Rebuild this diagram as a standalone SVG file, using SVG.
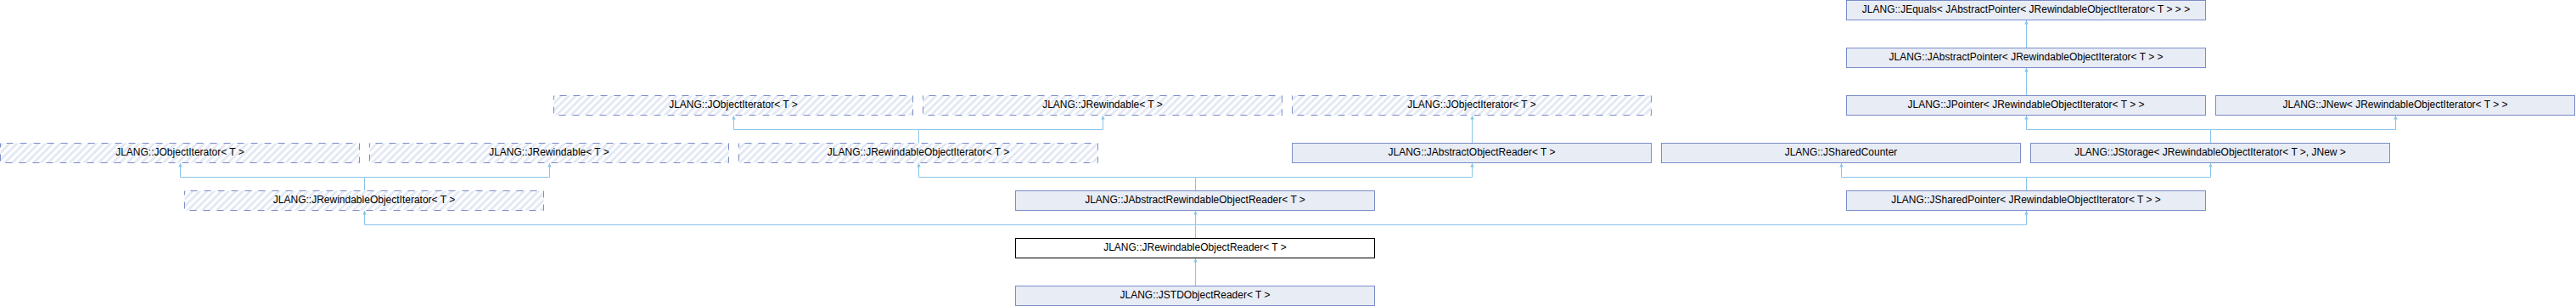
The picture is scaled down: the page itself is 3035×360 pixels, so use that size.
<svg xmlns="http://www.w3.org/2000/svg" width="3035" height="360" viewBox="0 0 3035 360">
<style>
  .n rect { fill: #E8ECF5; stroke: #7B8DC8; stroke-width: 1; }
  .h rect { fill: url(#hatch); stroke: #7B8DC8; stroke-width: 1; stroke-dasharray: 8 8; stroke-dashoffset: 9; }
  .cur rect { fill: #FFFFFF; stroke: #000000; stroke-width: 1; }
  text { font-family: "Liberation Sans", Arial, sans-serif; font-size: 12px; fill: #000000; text-anchor: middle; }
  #edges path { fill: none; stroke: #88C5EA; stroke-width: 1; marker-end: url(#arr); }
</style>
<defs>
  <pattern id="hatch" patternUnits="userSpaceOnUse" width="6" height="6" patternTransform="rotate(45)">
    <rect x="0" y="0" width="6" height="6" fill="#FFFFFF"/>
    <rect x="0" y="0" width="3" height="6" fill="#E4E9F4"/>
  </pattern>
  <marker id="arr" viewBox="0 0 10 10" refX="10" refY="5" markerUnits="userSpaceOnUse" markerWidth="4.5" markerHeight="5" orient="auto">
    <path d="M0,0 L10,5 L0,10 z" fill="#88C5EA"/>
  </marker>
</defs>
<rect x="0" y="0" width="3035" height="360" fill="#FFFFFF"/>

<g id="edges">
  <path d="M2387.5,56 V24"/>
  <path d="M2387.5,112 V80"/>
  <path d="M2604.5,168 V152.5 H2387.5 V136"/>
  <path d="M2604.5,152.5 H2822.5 V136"/>
  <path d="M2387.5,224 V208.5 H2169.5 V192"/>
  <path d="M2387.5,208.5 H2604.5 V192"/>
  <path d="M1082.5,168 V152.5 H864.5 V136"/>
  <path d="M1082.5,152.5 H1299.5 V136"/>
  <path d="M1734.5,168 V136"/>
  <path d="M429.5,224 V208.5 H212.5 V192"/>
  <path d="M429.5,208.5 H647.5 V192"/>
  <path d="M1408.5,224 V208.5 H1082.5 V192"/>
  <path d="M1408.5,208.5 H1734.5 V192"/>
  <path d="M1408.5,280 V264.5 H429.5 V248"/>
  <path d="M1408.5,264.5 V248"/>
  <path d="M1408.5,264.5 H2387.5 V248"/>
  <path d="M1408.5,336 V304"/>
</g>

<g id="JEquals" class="n"><rect x="2175.5" y="0.5" width="423" height="23"/><text x="2387" y="15">JLANG::JEquals&lt; JAbstractPointer&lt; JRewindableObjectIterator&lt; T &gt; &gt; &gt;</text></g>
<g id="JAbstractPointer" class="n"><rect x="2175.5" y="56.5" width="423" height="23"/><text x="2387" y="71">JLANG::JAbstractPointer&lt; JRewindableObjectIterator&lt; T &gt; &gt;</text></g>
<g id="JPointer" class="n"><rect x="2175.5" y="112.5" width="423" height="23"/><text x="2387" y="127">JLANG::JPointer&lt; JRewindableObjectIterator&lt; T &gt; &gt;</text></g>
<g id="JNew" class="n"><rect x="2610.5" y="112.5" width="423" height="23"/><text x="2822" y="127">JLANG::JNew&lt; JRewindableObjectIterator&lt; T &gt; &gt;</text></g>
<g id="JObjectIterator2" class="h"><rect x="652.5" y="112.5" width="423" height="23"/><text x="864" y="127">JLANG::JObjectIterator&lt; T &gt;</text></g>
<g id="JRewindable2" class="h"><rect x="1087.5" y="112.5" width="423" height="23"/><text x="1299" y="127">JLANG::JRewindable&lt; T &gt;</text></g>
<g id="JObjectIterator3" class="h"><rect x="1522.5" y="112.5" width="423" height="23"/><text x="1734" y="127">JLANG::JObjectIterator&lt; T &gt;</text></g>

<g id="JObjectIterator1" class="h"><rect x="0.5" y="168.5" width="423" height="23"/><text x="212" y="183">JLANG::JObjectIterator&lt; T &gt;</text></g>
<g id="JRewindable1" class="h"><rect x="435.5" y="168.5" width="423" height="23"/><text x="647" y="183">JLANG::JRewindable&lt; T &gt;</text></g>
<g id="JRewindableObjectIterator2" class="h"><rect x="870.5" y="168.5" width="423" height="23"/><text x="1082" y="183">JLANG::JRewindableObjectIterator&lt; T &gt;</text></g>
<g id="JAbstractObjectReader" class="n"><rect x="1522.5" y="168.5" width="423" height="23"/><text x="1734" y="183">JLANG::JAbstractObjectReader&lt; T &gt;</text></g>
<g id="JSharedCounter" class="n"><rect x="1957.5" y="168.5" width="423" height="23"/><text x="2169" y="183">JLANG::JSharedCounter</text></g>
<g id="JStorage" class="n"><rect x="2392.5" y="168.5" width="423" height="23"/><text x="2604" y="183">JLANG::JStorage&lt; JRewindableObjectIterator&lt; T &gt;, JNew &gt;</text></g>

<g id="JRewindableObjectIterator1" class="h"><rect x="217.5" y="224.5" width="423" height="23"/><text x="429" y="239">JLANG::JRewindableObjectIterator&lt; T &gt;</text></g>
<g id="JAbstractRewindableObjectReader" class="n"><rect x="1196.5" y="224.5" width="423" height="23"/><text x="1408" y="239">JLANG::JAbstractRewindableObjectReader&lt; T &gt;</text></g>
<g id="JSharedPointer" class="n"><rect x="2175.5" y="224.5" width="423" height="23"/><text x="2387" y="239">JLANG::JSharedPointer&lt; JRewindableObjectIterator&lt; T &gt; &gt;</text></g>

<g id="JRewindableObjectReader" class="cur"><rect x="1196.5" y="280.5" width="423" height="23"/><text x="1408" y="295">JLANG::JRewindableObjectReader&lt; T &gt;</text></g>

<g id="JSTDObjectReader" class="n"><rect x="1196.5" y="336.5" width="423" height="23"/><text x="1408" y="351">JLANG::JSTDObjectReader&lt; T &gt;</text></g>
</svg>
